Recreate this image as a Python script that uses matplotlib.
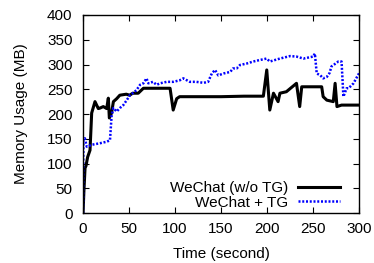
import matplotlib
matplotlib.use("Agg")
import matplotlib.pyplot as plt

plt.rcParams["font.family"] = ["Liberation Sans", "DejaVu Sans"]

# WeChat (w/o TG)
t_base = [0, 1, 2.2, 3.2, 5, 7.6, 9.4, 13, 16.6, 18.5, 22, 25.7, 27.5, 28.6,
          31, 33, 36.6, 40, 47, 50.7, 54, 60, 65.6, 94.6, 98, 101.8, 105, 150,
          175, 196, 199.7, 203, 207, 212, 214, 221, 232, 235.5, 237.7, 259.4,
          261, 265, 272, 274, 276, 281, 300]
mem_base = [0, 46, 91, 95, 113, 127, 202, 225, 211, 212, 215, 211, 232, 192,
            202, 225, 231, 238, 240, 238, 242, 242, 252, 252, 208, 231, 235, 235,
            236, 236, 289, 208, 242, 225, 242, 245, 262, 215, 255, 255,
            235, 228, 225, 262, 215, 218, 218]

# WeChat + TG
t_tg = [0, 0.4, 2, 4, 9.8, 18.5, 25.7, 29.3, 31, 33, 36.6, 40, 43.8, 47.5, 51,
        54, 58, 62, 65.6, 69, 71, 76, 80, 83.7, 91, 98, 105, 109, 116, 123, 131,
        136, 140, 143.5, 147, 153, 160, 163, 167, 170.6, 178, 185, 192, 199.6,
        203, 214, 225, 232, 239.5, 250, 252, 254, 258, 261, 265, 268, 270,
        277.5, 281, 283, 286.5, 288.6, 294, 299, 300]
mem_tg = [0, 147, 151, 134, 138, 141, 144, 147, 195, 212, 205, 212, 218, 228,
          238, 242, 248, 259, 262, 272, 262, 265, 259, 262, 265, 265, 268, 272,
          265, 265, 263, 265, 282, 289, 278, 282, 285, 292, 292, 299, 302, 306,
          309, 312, 306, 312, 317, 316, 312, 316, 322, 282, 278, 272, 275, 283,
          296, 306, 306, 235, 252, 252, 262, 279, 282]

fig = plt.figure(figsize=(3.74, 2.63), dpi=100)
ax = fig.add_axes([0.222, 0.19, 0.738, 0.753])

ax.plot(t_base, mem_base, color="black", lw=2.2, label="WeChat (w/o TG)")
ax.plot(t_tg, mem_tg, color="#0000ff", lw=1.8, linestyle=(0, (0.8, 0.7)),
        label="WeChat + TG")

ax.set_xlim(0, 300)
ax.set_ylim(0, 400)
ax.set_xticks(range(0, 301, 50))
ax.set_yticks(range(0, 401, 50))
ax.tick_params(direction="in", top=True, right=True, labelsize=11, length=4, width=0.8)
ax.tick_params(axis="y", pad=7.5)
ax.tick_params(axis="x", pad=6.5)
for s in ax.spines.values():
    s.set_linewidth(1.0)

ax.set_xlabel("Time (second)", fontsize=11, labelpad=8)
ax.set_ylabel("Memory Usage (MB)", fontsize=11, labelpad=14)

ax.legend(loc="lower right", frameon=False, markerfirst=False, fontsize=11,
          handlelength=2.75, handletextpad=0.65, labelspacing=0.05,
          borderpad=0, borderaxespad=0, bbox_to_anchor=(0.931, 0.017))

fig.savefig("out.png", dpi=100)
